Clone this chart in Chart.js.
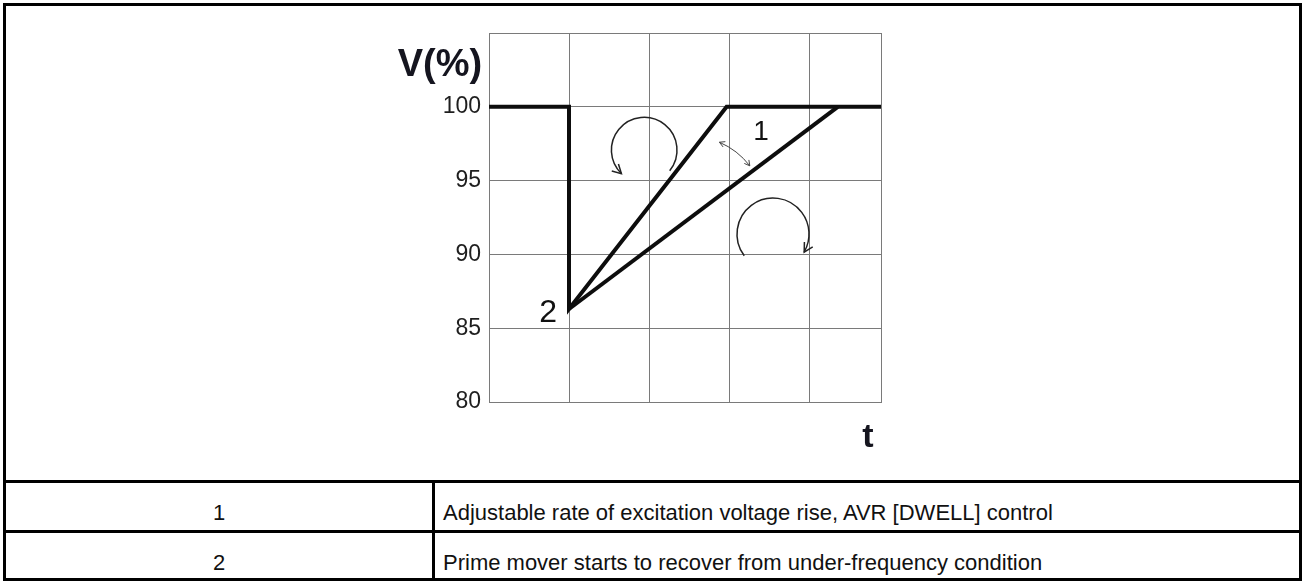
<!DOCTYPE html>
<html>
<head>
<meta charset="utf-8">
<script src="https://cdn.jsdelivr.net/npm/chart.js@4.4.1/dist/chart.umd.min.js"></script>
<style>
  html, body { margin: 0; padding: 0; background: #fff; }
  #page { position: relative; width: 1303px; height: 581px; font-family: "Liberation Sans", Arial, sans-serif; color: #111; }
  .rule { position: absolute; background: #000; }
  #chartBox { position: absolute; left: 6px; top: 6px; width: 1293px; height: 474px; }
  .cell { position: absolute; font-size: 22px; line-height: 25px; white-space: nowrap; }
</style>
</head>
<body>
<div id="page">
  <div id="chartBox"><canvas id="voltChart"></canvas></div>

  <!-- table frame -->
  <div class="rule" style="left:3px; top:3px; width:1299px; height:3px;"></div>
  <div class="rule" style="left:3px; top:578px; width:1299px; height:3px;"></div>
  <div class="rule" style="left:3px; top:3px; width:3px; height:578px;"></div>
  <div class="rule" style="left:1299px; top:3px; width:3px; height:578px;"></div>
  <div class="rule" style="left:3px; top:480px; width:1299px; height:3px;"></div>
  <div class="rule" style="left:3px; top:530px; width:1299px; height:3px;"></div>
  <div class="rule" style="left:432px; top:480px; width:3px; height:100px;"></div>

  <div class="cell" id="key1" style="left:6px; width:426px; text-align:center; top:500px;"></div>
  <div class="cell" id="desc1" style="left:443px; top:500px;"></div>
  <div class="cell" id="key2" style="left:6px; width:426px; text-align:center; top:550px;"></div>
  <div class="cell" id="desc2" style="left:443px; top:550px;"></div>
</div>

<script>
// voltage trace: step down then fast recovery
const mainT = [0, 1, 1, 2.97, 4.9];
const mainV = [100, 100, 86.3, 100, 100];
// slower recovery ramp
const slowT = [1, 4.36];
const slowV = [86.3, 100];

const yTicks = [80, 85, 90, 95, 100];
const keyLabels = ['1', '2'];
const keyTexts = [
    'Adjustable rate of excitation voltage rise, AVR [DWELL] control',
    'Prime mover starts to recover from under-frequency condition'
];

// annotation anchors, in data units (t, V)
const arcCenterT = [1.94, 3.55];
const arcCenterV = [97.07, 91.38];
const arcRadiusT = [0.41, 0.45];
const arcStartDeg = [39, 143];
const arcEndDeg = [134, 30];
const arcCcw = [true, false];

const dblArrowT = [2.88, 3.26];
const dblArrowV = [97.6, 96.0];

const markTexts = ['1', '2'];
const markT = [3.4, 0.74];
const markV = [98.3, 86.0];

// fill table
document.getElementById('key1').innerText = keyLabels[0];
document.getElementById('key2').innerText = keyLabels[1];
document.getElementById('desc1').innerText = keyTexts[0];
document.getElementById('desc2').innerText = keyTexts[1];

function arrowHead(c, x, y, ang, len) {
    c.beginPath();
    c.moveTo(x + len * Math.cos(ang + Math.PI - 0.5), y + len * Math.sin(ang + Math.PI - 0.5));
    c.lineTo(x, y);
    c.lineTo(x + len * Math.cos(ang + Math.PI + 0.5), y + len * Math.sin(ang + Math.PI + 0.5));
    c.stroke();
}

const sketchNotes = {
    id: 'sketchNotes',
    afterDatasetsDraw(chart) {
        const c = chart.ctx;
        const xs = chart.scales.x;
        const ys = chart.scales.y;
        c.save();
        c.strokeStyle = '#222';
        c.fillStyle = '#111';

        // curved arrows
        c.lineWidth = 1.5;
        for (let i = 0; i < arcCenterT.length; i++) {
            const cx = xs.getPixelForValue(arcCenterT[i]);
            const cy = ys.getPixelForValue(arcCenterV[i]);
            const r = xs.getPixelForValue(arcCenterT[i] + arcRadiusT[i]) - cx;
            const a0 = arcStartDeg[i] * Math.PI / 180;
            const a1 = arcEndDeg[i] * Math.PI / 180;
            c.beginPath();
            c.arc(cx, cy, r, a0, a1, arcCcw[i]);
            c.stroke();
            const ex = cx + r * Math.cos(a1);
            const ey = cy + r * Math.sin(a1);
            const dir = arcCcw[i] ? a1 - Math.PI / 2 : a1 + Math.PI / 2;
            arrowHead(c, ex, ey, dir, 10);
        }

        // small double arrow between the ramps
        c.lineWidth = 1;
        c.strokeStyle = '#444';
        const x0 = xs.getPixelForValue(dblArrowT[0]), y0 = ys.getPixelForValue(dblArrowV[0]);
        const x1 = xs.getPixelForValue(dblArrowT[1]), y1 = ys.getPixelForValue(dblArrowV[1]);
        const mx = (x0 + x1) / 2 + 3, my = (y0 + y1) / 2 - 4;
        c.beginPath();
        c.moveTo(x0, y0);
        c.quadraticCurveTo(mx, my, x1, y1);
        c.stroke();
        arrowHead(c, x0, y0, Math.atan2(y0 - my, x0 - mx), 6);
        arrowHead(c, x1, y1, Math.atan2(y1 - my, x1 - mx), 6);

        // numbered marks
        c.textAlign = 'center';
        c.textBaseline = 'middle';
        c.font = '28px "Liberation Sans", Arial, sans-serif';
        c.fillText(markTexts[0], xs.getPixelForValue(markT[0]), ys.getPixelForValue(markV[0]));
        c.font = '32px "Liberation Sans", Arial, sans-serif';
        c.fillText(markTexts[1], xs.getPixelForValue(markT[1]), ys.getPixelForValue(markV[1]));

        // axis names
        c.fillStyle = '#15151f';
        c.font = 'bold 38px "Liberation Sans", Arial, sans-serif';
        c.textBaseline = 'alphabetic';
        c.fillText('V(%)', xs.left - 49, ys.top + 43);
        c.font = 'bold 34px "Liberation Sans", Arial, sans-serif';
        c.fillText('t', xs.right - 13, ys.bottom + 45);
        c.restore();
    }
};

const ctx = document.getElementById('voltChart').getContext('2d');
const voltChart = new Chart(ctx, {
    type: 'line',
    data: {
        datasets: [
            {
                data: mainT.map((t, i) => ({ x: t, y: mainV[i] })),
                borderColor: '#0d0d0d',
                borderWidth: 4,
                pointRadius: 0,
                tension: 0,
                borderJoinStyle: 'miter'
            },
            {
                data: slowT.map((t, i) => ({ x: t, y: slowV[i] })),
                borderColor: '#0d0d0d',
                borderWidth: 4,
                pointRadius: 0,
                tension: 0
            }
        ]
    },
    options: {
        responsive: true,
        maintainAspectRatio: false,
        animation: false,
        layout: { padding: { left: 423, right: 418, top: 27, bottom: 78 } },
        plugins: { legend: { display: false }, tooltip: { enabled: false } },
        scales: {
            x: {
                type: 'linear',
                min: 0,
                max: 4.9,
                ticks: { display: false, stepSize: 1 },
                grid: { color: '#7a7a7a', lineWidth: 1, drawTicks: false },
                border: { color: '#7a7a7a' },
                afterFit(scale) { scale.height = 0; }
            },
            y: {
                min: 80,
                max: 105,
                ticks: {
                    stepSize: 5,
                    padding: 8,
                    color: '#1e1e1e',
                    font: { family: '"Liberation Sans", Arial, sans-serif', size: 23 },
                    callback: (v) => yTicks.includes(v) ? String(v) : ''
                },
                grid: { color: '#7a7a7a', lineWidth: 1, drawTicks: false },
                border: { color: '#7a7a7a' },
                afterFit(scale) {
                    scale.width = 60;
                    scale.paddingTop = 0;
                    scale.paddingBottom = 0;
                }
            }
        }
    },
    plugins: [sketchNotes]
});
</script>
</body>
</html>
